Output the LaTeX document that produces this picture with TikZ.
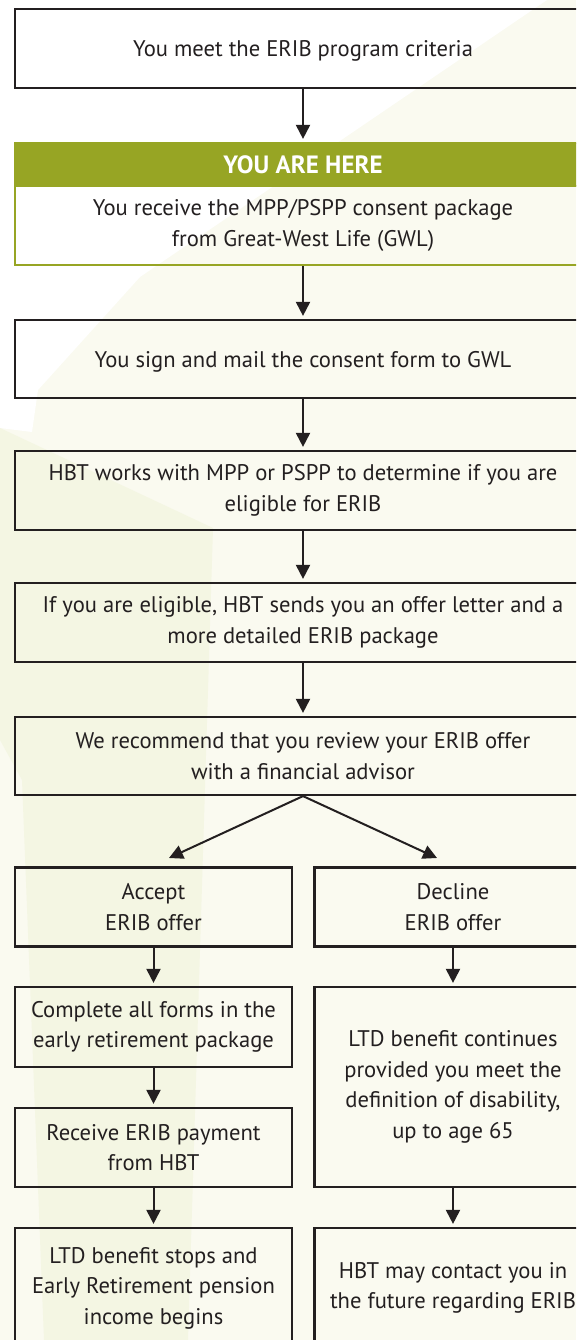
\documentclass[tikz,border=0pt]{standalone}
\usepackage{fontspec}
\setmainfont{PT Sans}
\usetikzlibrary{arrows.meta}
\definecolor{ink}{HTML}{231F20}
\definecolor{leaf}{HTML}{97A524}
\definecolor{cream}{HTML}{FAFAF0}
\definecolor{band}{HTML}{F4F6E3}
\begin{document}
\begin{tikzpicture}[x=1pt,y=-1pt,
  box/.style={draw=ink, line width=2.2pt, inner sep=0pt, align=center, text=ink,
    font=\fontsize{22.6}{30.5}\selectfont},
  wide/.style={box, minimum width=576pt},
  half/.style={box, minimum width=277pt},
  arr/.style={draw=ink, line width=2pt, -{Triangle[length=14pt,width=14pt]}, shorten >=3pt}]
\useasboundingbox (0,0) rectangle (576,1340);
\clip (0,0) rectangle (576,1340);
% background
\fill[cream] (0,0) rectangle (576,1340);
\fill[white] (0,0) -- (547,0) -- (140,277) -- (38,390) -- (32,432) -- (0,428) -- cycle;
\fill[band] (0,428) -- (213,528) -- (188,1340) -- (44,1340) -- (22,780) -- (0,740) -- cycle;
% main column
\node[wide, minimum height=79pt, text depth=0pt] (b1) at (303,48.5) {You meet the ERIB program criteria};
\node[wide, minimum height=43pt, draw=leaf, fill=leaf, text=white, font=\fontsize{25}{30}\selectfont\bfseries] (hdr) at (303,164.5) {YOU ARE HERE};
\node[wide, minimum height=79pt, draw=leaf] (b2) at (303,225.5) {You receive the MPP/PSPP consent package\\from Great-West Life (GWL)};
\node[wide, minimum height=78pt, text depth=0pt] (b3) at (303,359) {You sign and mail the consent form to GWL};
\node[wide, minimum height=79pt] (b4) at (303,490.5) {HBT works with MPP or PSPP to determine if you are\\eligible for ERIB};
\node[wide, minimum height=79pt] (b5) at (303,622.5) {If you are eligible, HBT sends you an offer letter and a\\more detailed ERIB package};
\node[wide, minimum height=78pt] (b6) at (303,756) {We recommend that you review your ERIB offer\\with a financial advisor};
% branches
\node[half, minimum height=79pt] (acc) at (153.5,907) {Accept\\ERIB offer};
\node[half, minimum height=79pt] (dec) at (453,907) {Decline\\ERIB offer};
\node[half, minimum height=80pt] (comp) at (153.5,1027) {Complete all forms in the\\early retirement package};
\node[half, minimum height=79pt] (recv) at (153.5,1147.5) {Receive ERIB payment\\from HBT};
\node[half, minimum height=120pt] (stops) at (153.5,1288) {LTD benefit stops and\\Early Retirement pension\\income begins};
\node[half, minimum height=200pt] (cont) at (453,1087) {LTD benefit continues\\provided you meet the\\definition of disability,\\up to age 65};
\node[half, minimum height=120pt] (may) at (453,1288) {HBT may contact you in\\the future regarding ERIB};
\coordinate (tipL) at (169,858);
\coordinate (tipR) at (437,858);
% connectors
\draw[arr] (b1.south) -- (hdr.north);
\draw[arr] (b2.south) -- (b3.north);
\draw[arr] (b3.south) -- (b4.north);
\draw[arr] (b4.south) -- (b5.north);
\draw[arr] (b5.south) -- (b6.north);
\draw[arr, shorten >=0pt] (b6.south) -- (tipL);
\draw[arr, shorten >=0pt] (b6.south) -- (tipR);
\draw[arr] (acc.south) -- (comp.north);
\draw[arr] (comp.south) -- (recv.north);
\draw[arr] (recv.south) -- (stops.north);
\draw[arr] (dec.south) -- (cont.north);
\draw[arr] (cont.south) -- (may.north);
\end{tikzpicture}
\end{document}
